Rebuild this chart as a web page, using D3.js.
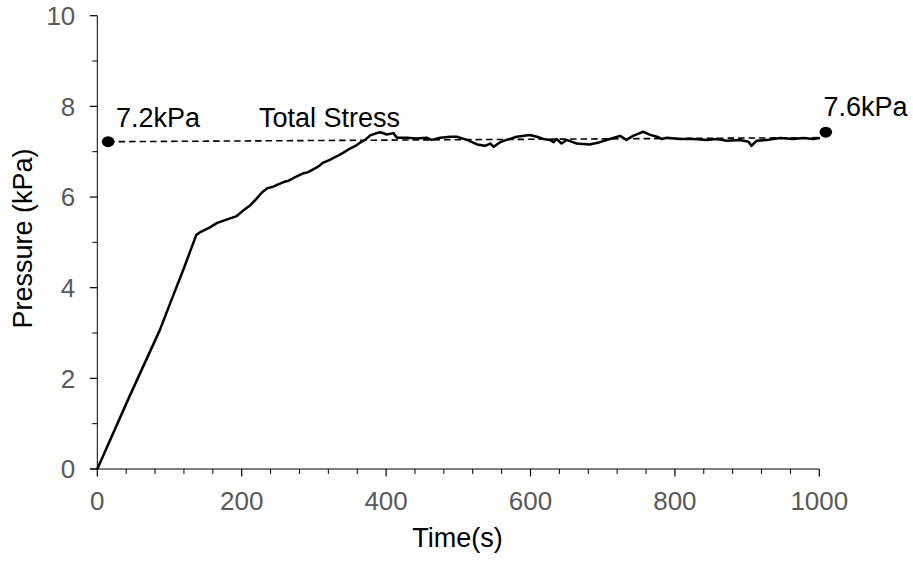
<!DOCTYPE html>
<html>
<head>
<meta charset="utf-8">
<script src="https://cdn.jsdelivr.net/npm/d3@7"></script>
<style>
  html, body { margin: 0; padding: 0; background: #fff; }
  svg { display: block; font-family: "Liberation Sans", Arial, sans-serif; }
</style>
</head>
<body>
<svg id="chart" width="913" height="561"></svg>
<script>
// ---- data ----
const times = [0, 44, 87, 101, 119, 137, 142, 147, 156, 166, 175, 184, 193, 202, 212, 221, 228, 235, 242, 249, 258, 265, 272, 285, 292, 299, 306, 313, 322, 332, 341, 350, 359, 364, 371, 378, 385, 392, 401, 410, 415, 429, 442, 456, 463, 475, 489, 498, 512, 526, 537, 544, 549, 558, 567, 581, 599, 609, 618, 627, 632, 636, 643, 650, 664, 682, 696, 710, 724, 733, 742, 756, 766, 775, 782, 789, 807, 826, 844, 858, 872, 890, 902, 906, 913, 927, 946, 964, 978, 991, 1001];
const pressure = [0, 1.58, 3.08, 3.66, 4.39, 5.16, 5.22, 5.26, 5.33, 5.43, 5.48, 5.53, 5.58, 5.70, 5.82, 5.97, 6.10, 6.19, 6.22, 6.27, 6.33, 6.36, 6.42, 6.52, 6.55, 6.61, 6.67, 6.76, 6.82, 6.90, 6.98, 7.07, 7.14, 7.20, 7.26, 7.36, 7.40, 7.43, 7.38, 7.41, 7.31, 7.31, 7.29, 7.31, 7.26, 7.31, 7.33, 7.33, 7.26, 7.16, 7.13, 7.18, 7.11, 7.21, 7.26, 7.33, 7.37, 7.33, 7.28, 7.26, 7.21, 7.28, 7.18, 7.26, 7.18, 7.16, 7.21, 7.28, 7.35, 7.26, 7.35, 7.44, 7.37, 7.33, 7.28, 7.31, 7.28, 7.28, 7.26, 7.28, 7.24, 7.26, 7.22, 7.13, 7.24, 7.26, 7.30, 7.28, 7.30, 7.28, 7.30];
const refLineTimes = [15, 1001];
const refLineValues = [7.22, 7.31];
const markerTimes = [15, 1009];
const markerValues = [7.22, 7.43];
const markerLabels = ["7.2kPa", "7.6kPa"];
const seriesLabel = "Total Stress";
const xTicks = [0, 200, 400, 600, 800, 1000];
const yTicks = [0, 2, 4, 6, 8, 10];
const xTitle = "Time(s)";
const yTitle = "Pressure (kPa)";

// ---- chart ----
const svg = d3.select("#chart");
const x = d3.scaleLinear().domain([0, 1000]).range([97.3, 819.3]);
const y = d3.scaleLinear().domain([0, 10]).range([469, 15.7]);

const FS = 26;
const FT = 27;
const gray = "#595959";

// minor ticks
const xMinor = d3.range(0, 1001, 40).filter(v => v % 200 !== 0);
const yMinor = d3.range(1, 10, 2);

// x axis
const gx = svg.append("g").attr("transform", `translate(0,${y(0)})`);
gx.append("line").attr("x1", x(0) - 7).attr("x2", x(1000)).attr("y1", 0).attr("y2", 0)
  .attr("stroke", "#000").attr("stroke-width", 1);
gx.selectAll("line.maj").data(xTicks).join("line").attr("class", "maj")
  .attr("x1", d => x(d)).attr("x2", d => x(d)).attr("y1", 0).attr("y2", 7.5)
  .attr("stroke", "#000").attr("stroke-width", 1.2);
gx.selectAll("line.min").data(xMinor).join("line").attr("class", "min")
  .attr("x1", d => x(d)).attr("x2", d => x(d)).attr("y1", 0).attr("y2", 5)
  .attr("stroke", "#000").attr("stroke-width", 1);
gx.selectAll("text").data(xTicks).join("text")
  .attr("x", d => x(d)).attr("y", 41).attr("text-anchor", "middle")
  .attr("font-size", FS).attr("fill", gray).text(d => d);

// y axis
const gy = svg.append("g").attr("transform", `translate(${x(0)},0)`);
gy.append("line").attr("x1", 0).attr("x2", 0).attr("y1", y(0)).attr("y2", y(10))
  .attr("stroke", "#000").attr("stroke-width", 1);
gy.selectAll("line.maj").data(yTicks).join("line").attr("class", "maj")
  .attr("x1", -7.5).attr("x2", 0).attr("y1", d => y(d)).attr("y2", d => y(d))
  .attr("stroke", "#000").attr("stroke-width", 1.2);
gy.selectAll("line.min").data(yMinor).join("line").attr("class", "min")
  .attr("x1", -5).attr("x2", 0).attr("y1", d => y(d)).attr("y2", d => y(d))
  .attr("stroke", "#000").attr("stroke-width", 1);
gy.selectAll("text").data(yTicks).join("text")
  .attr("x", -22).attr("y", d => y(d) + 9.3).attr("text-anchor", "end")
  .attr("font-size", FS).attr("fill", gray).text(d => d);

// titles
svg.append("text").attr("x", 457.5).attr("y", 547).attr("text-anchor", "middle")
  .attr("font-size", FT).attr("fill", "#000").text(xTitle);
svg.append("text").attr("transform", `translate(31.5,${238.5}) rotate(-90)`)
  .attr("text-anchor", "middle").attr("font-size", FT).attr("fill", "#000").text(yTitle);

// reference dashed line
svg.append("line")
  .attr("x1", x(refLineTimes[0])).attr("y1", y(refLineValues[0]))
  .attr("x2", x(refLineTimes[1])).attr("y2", y(refLineValues[1]))
  .attr("stroke", "#000").attr("stroke-width", 1.6).attr("stroke-dasharray", "6.5,4");

// main series
const pts = times.map((t, i) => [t, pressure[i]]);
svg.append("path").datum(pts)
  .attr("fill", "none").attr("stroke", "#000").attr("stroke-width", 2.5)
  .attr("stroke-linejoin", "round")
  .attr("d", d3.line().x(d => x(d[0])).y(d => y(d[1])));

// markers
svg.selectAll("ellipse.mk").data(markerTimes).join("ellipse").attr("class", "mk")
  .attr("cx", (d) => x(d)).attr("cy", (d, i) => y(markerValues[i]))
  .attr("rx", 6.3).attr("ry", 5.5).attr("fill", "#000");

// annotations
svg.append("text").attr("x", 116).attr("y", 126.7).attr("font-size", FT).attr("fill", "#000").text(markerLabels[0]);
svg.append("text").attr("x", 259).attr("y", 126.7).attr("font-size", FT).attr("fill", "#000").text(seriesLabel);
svg.append("text").attr("x", 823.5).attr("y", 116).attr("font-size", FT).attr("fill", "#000").text(markerLabels[1]);
</script>
</body>
</html>
